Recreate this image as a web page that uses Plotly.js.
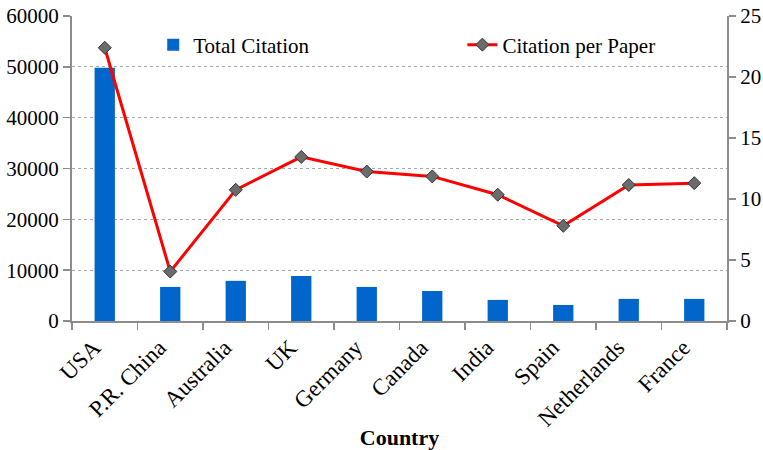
<!DOCTYPE html>
<html><head><meta charset="utf-8">
<script src="https://cdn.plot.ly/plotly-3.0.1.min.js"></script>
<style>body{margin:0;background:#fff}#c{width:763px;height:450px}</style>
</head><body><div id="c"></div>
<script>
const countries = ["USA","P.R. China","Australia","UK","Germany","Canada","India","Spain","Netherlands","France"];
const totalCitation = [49800,6700,7900,8850,6700,5900,4150,3150,4350,4350];
const citationPerPaper = [22.4,4.05,10.75,13.45,12.25,11.85,10.35,7.8,11.15,11.3];
const leftTicks = [0,10000,20000,30000,40000,50000,60000];
const rightTicks = [0,5,10,15,20,25];

const fam = "Liberation Serif, Times New Roman, serif";
const font = {family:fam, size:21, color:"#000"};
const data = [
  {type:"bar", name:"Total Citation", x:countries, y:totalCitation,
   marker:{color:"#0066CC"}, width:0.31, yaxis:"y", legend:"legend"},
  {type:"scatter", mode:"lines+markers", name:"Citation per Paper", x:countries, y:citationPerPaper,
   line:{color:"#FF0000", width:3},
   marker:{symbol:"diamond", size:10, color:"#6b6b6b", line:{color:"#333", width:1}},
   yaxis:"y2", legend:"legend2"}
];
const axLine = {showline:true, linecolor:"#8c8c8c", linewidth:2, ticks:"outside", ticklen:7,
                tickcolor:"#8c8c8c", tickwidth:1.5, tickfont:font, zeroline:false, automargin:false};
const layout = {
  width:763, height:450,
  margin:{l:72, r:36, t:16, b:129},
  paper_bgcolor:"#fff", plot_bgcolor:"#fff",
  font:font,
  showlegend:true,
  legend:{x:0.124, y:0.905, xanchor:"left", yanchor:"middle", font:font, bgcolor:"rgba(0,0,0,0)"},
  legend2:{x:0.596, y:0.905, xanchor:"left", yanchor:"middle", font:font, bgcolor:"rgba(0,0,0,0)"},
  xaxis:Object.assign({}, axLine, {type:"category", range:[-0.5, countries.length-0.5], tickson:"boundaries",
         tickangle:-45, showgrid:false, tickfont:{family:fam, size:23, color:"#000"},
         ticklabelshift:-11, ticklabelstandoff:2,
         title:{text:"Country", font:{family:fam, size:22, color:"#000", weight:"bold"}, standoff:4}}),
  yaxis:Object.assign({range:[0,60000], tickvals:leftTicks, ticktext:leftTicks.map(String),
         showgrid:true, gridcolor:"#a8a8a8", griddash:"3px,3px", gridwidth:1}, axLine),
  yaxis2:Object.assign({range:[0,25], tickvals:rightTicks, ticktext:rightTicks.map(String),
          overlaying:"y", side:"right", showgrid:false}, axLine)
};
Plotly.newPlot("c", data, layout, {displayModeBar:false, staticPlot:true});
</script></body></html>
